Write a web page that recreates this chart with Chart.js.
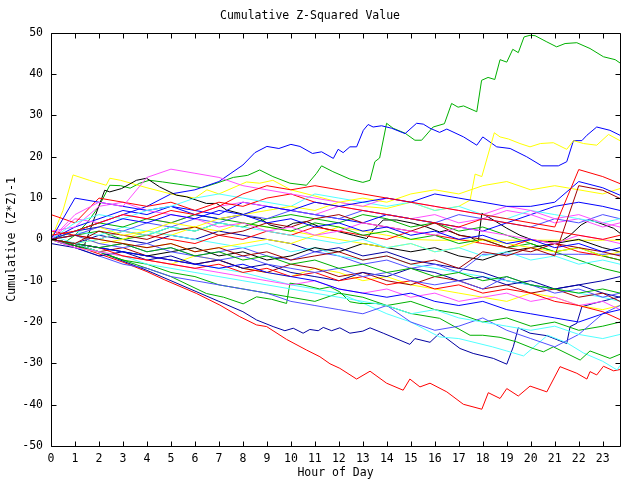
<!DOCTYPE html>
<html>
<head>
<meta charset="utf-8">
<script src="https://cdn.jsdelivr.net/npm/chart.js@4/dist/chart.umd.min.js"></script>
<style>html,body{margin:0;padding:0;background:#fff;}canvas{display:block;}</style>
</head>
<body>
<canvas id="c" width="640" height="480"></canvas>
<script>
// ---- data ----
const HOURS = [0,1,2,3,4,5,6,7,8,9,10,11,12,13,14,15,16,17,18,19,20,21,22,23,23.72];
const TICK_HOURS = [0,1,2,3,4,5,6,7,8,9,10,11,12,13,14,15,16,17,18,19,20,21,22,23];

const GREEN_BIG_X = [0,0.5,1,1.5,2,2.45,2.9,3.3,3.7,4.1,4.66,5.5,6.3,7,7.6,8.2,8.7,9.25,9.96,10.65,11.07,11.28,11.75,12.46,13.0,13.3,13.5,13.7,13.99,14.26,14.76,15.17,15.45,15.93,16.4,16.7,16.97,17.2,17.75,17.95,18.22,18.5,18.72,19.0,19.25,19.48,19.72,19.97,20.18,20.67,21.08,21.43,21.92,22.47,23.03,23.52,23.72];
const GREEN_BIG_Y = [0,-1,1,4,8,13.1,13,12.4,13.6,14.3,13.9,13.2,12.5,13.8,15,15.5,16.8,15.2,13.6,13.1,16,17.8,16.4,14.6,13.8,14.3,18.8,19.7,28.1,26.9,25.7,24.0,24.0,27.2,28.0,32.9,32.0,32.3,30.9,38.5,39.2,38.7,43.5,42.9,46.0,45.2,49.0,49.4,49.3,47.8,46.6,47.4,47.6,46.2,44.2,43.5,42.7];

const BLUE_TOP_X = [0,1,2,3,4,5,6,7,7.5,8,8.5,9,9.5,10,10.38,10.9,11.28,11.77,11.97,12.18,12.46,12.74,13.02,13.22,13.43,13.78,14.2,14.76,15.24,15.52,15.8,16.2,16.5,17.2,17.75,18.0,18.58,19.14,19.83,20.46,21.15,21.5,21.78,22.13,22.34,22.75,23.3,23.72];
const BLUE_TOP_Y = [0,2,4,6,8,11,12,14,16,18,21,22.5,22,23,22.5,20.8,21.2,19.6,21.8,21.0,22.4,22.4,26.4,27.8,27.2,27.5,26.9,25.6,28.1,27.9,26.9,25.9,26.7,24.8,22.8,24.8,22.4,22.0,20.0,17.8,17.8,18.8,23.9,23.9,25.2,27.2,26.4,25.2];

const YELLOW_TOP_X = [0,0.5,0.92,1.6,2.3,2.45,2.9,4,5,6,6.5,7,8.15,8.7,9.25,10,11,12,13,14,15,16,17,17.47,17.68,17.96,18.48,18.72,19.07,19.55,19.97,20.4,20.94,21.5,21.78,22.2,22.75,23.24,23.72];
const YELLOW_TOP_Y = [0,7,15.6,14.3,13.1,14.8,14.3,12.5,11,10,12,11,13.9,13.6,14.3,12,10.5,9,8,7.5,9,7,8,9.5,15.8,15.2,25.8,24.8,24.3,23.2,22.4,23.2,23.4,21.8,23.9,23.2,22.8,25.4,23.9];

const RED_LOW_X = [0,1,2,3,4,4.74,6.07,7.04,7.87,8.57,8.99,9.82,10.66,11.21,11.63,12.04,12.74,13.3,13.99,14.68,14.96,15.38,15.8,16.5,17.19,17.96,18.23,18.72,19.0,19.48,19.97,20.67,21.22,21.92,22.34,22.47,22.75,23.03,23.45,23.72];
const RED_LOW_Y = [0,-1.5,-3.5,-5.5,-7.8,-9.8,-13.1,-15.9,-18.7,-20.7,-21.1,-24.2,-26.8,-28.4,-30.1,-31.2,-33.8,-31.9,-34.8,-36.5,-33.8,-35.7,-34.8,-36.9,-39.9,-41.1,-37.1,-38.5,-36.1,-37.9,-35.5,-36.9,-30.8,-32.4,-33.8,-32.0,-32.8,-30.7,-31.8,-31.5];

const DKBLUE_LOW_X = [0,2,4,5,6,7,8,8.57,9.26,9.75,10.1,10.51,10.79,11.14,11.35,11.7,12.04,12.46,13.0,13.3,13.85,14.55,14.96,15.17,15.8,16.2,17.05,17.6,18.44,19.0,19.27,19.48,19.97,20.67,21.5,21.64,21.92,22.13,22.61,23.17,23.72];
const DKBLUE_LOW_Y = [0,-3,-7.5,-10,-12.5,-15,-17.5,-19.5,-21.1,-22.1,-21.5,-22.7,-21.8,-22.1,-21.3,-22.1,-21.4,-22.7,-22.2,-21.4,-22.7,-24.4,-25.4,-24.0,-24.9,-22.7,-26.4,-27.6,-28.8,-30.2,-26.0,-21.4,-22.7,-23.3,-25.2,-21.1,-20.3,-16.3,-15.5,-14.7,-13.9];

const GREEN_LOW_X = [0,2,4,5,6.48,7.2,8.01,8.57,9.2,9.82,9.96,10.5,11.2,11.63,12.04,12.46,12.88,13.57,14.13,14.97,16.2,17.47,18.0,18.72,19.41,20.1,20.53,20.94,22.06,22.47,23.3,23.72];
const GREEN_LOW_Y = [0,-3,-7,-9,-13.1,-14,-15.6,-13.9,-14.5,-15.5,-10.6,-11,-12,-11.5,-12.7,-15.1,-15.5,-15.5,-16.3,-17.9,-19.1,-23.2,-23.2,-23.7,-24.8,-26.4,-27.2,-26.0,-29.2,-27.0,-28.8,-27.8];

const CYAN_LOW_X = [0,2,4,6,8,10,12,13,14,15,16.2,17,18.4,19,19.7,20.7,21.5,22.2,23,23.6,23.72];
const CYAN_LOW_Y = [0,-2,-4,-6,-8,-11,-13,-15.4,-18,-20,-23.6,-24,-26,-27,-28.2,-23.2,-25,-27.5,-29.5,-31.6,-30.5];

const BLACK_X = [0,0.5,1,1.34,1.8,2.24,2.45,2.94,3.56,3.98,4.53,5.23,5.65,6.48,6.9,7.32,7.87,8.29,8.71,9.12,9.68,10.1,10.66,11.35,12.04,12.6,13.16,13.43,13.85,14.41,15.1,15.66,16.2,16.5,17.05,17.47,17.81,17.96,18.44,19.0,19.55,20.1,20.7,21.22,21.64,22.1,22.47,22.89,23.45,23.72];
const BLACK_Y = [0,-1,-1.5,-2.2,5,11.9,11.5,12.3,14.3,14.8,12.7,10.7,10.3,8.7,8.7,7.1,6.3,5.5,5.1,3.5,2.7,3.9,4.3,2.7,1.8,1.0,0.2,2.2,4.7,4.7,3.9,3.0,1.8,2.2,1.0,0.6,-0.6,6.3,4.7,2.7,1.0,-0.2,-0.5,-0.6,1.0,3.5,4.7,3.9,2.7,1.5];

// hourly series (values at HOURS)
const R1  = [1,2,4,6,5,7,6,8,11,13,12,13,12,11,10,9,8,7,6,5,4,3,16.9,15.2,13.5];
const R2  = [0,1,0,-1,-2,-1,-3,-2,-4,-3,-5,-4,-3,-5,-4,-6,-5,-7,-3,-4,-2,-4,13,11.9,9.9];
const R3  = [0,2,3,5,4,6,5,7,6,8,7,9,8,9,10,9,11,10,9,8,8,9,14,12.5,10.7];
const R4  = [0,2,3,1,2,4,3,5,6,7,8,7,9,10,9,11,12,11,13,14,12,13,12,11,12.3];
const R5  = [0,6,9,8,15,17,16,15,13,12,11,10,9,8,10,9,8,7,6,8,7,5,6,4,3];
const R6  = [0,4,6,5,7,8,10,11,10,9,8,11,10,9,8,9,7,8,6,5,7,6,5,4,5];
const R7  = [0,10,9,8,7,8,6,5,6,4,5,3,4,2,3,1,2,0,1,-1,0,-2,-1,-3,-2];
const R8  = [6,4,10,9,8,9,7,9,8,10,11,9,8,7,6,5,4,3,5,4,3,2,1,0,1];
const R9  = [2,3,8,9,7,6,5,3,4,2,3,1,2,4,3,2,1,3,2,1,0,-1,1,0,-1];
const R10 = [0,-1,2,1,0,2,3,1,2,4,3,5,6,4,3,2,4,1,0,-2,-3,-1,-2,-3,-4];
const R11 = [1,-1,0,2,1,3,2,4,3,2,1,0,-1,0,-2,-1,-3,-2,-4,-3,-5,-4,-6,-5,-6];
const R12 = [0,-1,-2,-1,-3,-2,-4,-3,-5,-4,-6,-5,-7,-6,-8,-7,-9,-8,-10,-9,-11,-12,-13,-12,-13];
const R13 = [0,-1,-2,-3,-4,-5,-6,-7,-6,-8,-9,-10,-12,-13,-14,-13,-15,-16,-15,-17,-18,-19,-20,-18,-17];
const R14 = [0,1,-1,-2,-1,-3,-4,-5,-4,-6,-7,-8,-7,-9,-8,-10,-11,-10,-12,-9,-11,-13,-12,-14,-13];
const R15 = [0,-1,0,-1,-2,-1,-3,-2,-1,0,-1,1,0,-1,-2,-1,-3,-2,0,-1,-2,-3,-2,-4,-3];
const R16 = [0,-1,-2,-4,-5,-6,-7,-6,-8,-7,-9,-8,-10,-9,-11,-10,-12,-11,-13,-12,-13,-15,-16,-17.5,-19.4];
const R17 = [0,-2,-3,-4,-5,-6,-7,-8,-9,-10,-11,-10,-12,-13,-12,-14,-13,-15,-14,-13,-15,-14,-16,-15,-17];
const R18 = [0,-1,-3,-4,-6,-7,-8,-9,-10,-11,-12,-13,-14,-15,-16,-18,-17,-19,-20,-21,-22,-21,-23,-24,-23];
const R19 = [-1,-2,-4,-3,-5,-4,-6,-5,-7,-6,-8,-9,-10,-8,-9,-7,-8,-10,-9,-11,-10,-12,-11,-10,-9];
const R20 = [0,-1,-2,-3,-4,-3,-2,-4,-3,-5,-4,-2,-3,-1,-2,-3,-2,-4,-5,-3,-2,-1,0,-2,-3];
const R21 = [0,2,4,3,5,4,6,5,4,3,2,4,3,1,2,0,1,-1,0,-2,-1,-3,-2,-4,-5];
const R22 = [0,-2,-4,-6,-7,-9,-10,-11,-12,-13,-15,-16,-17,-18,-16,-20,-22,-21,-19,-22,-24,-26,-23,-18,-16];
const R23 = [0,1,3,2,4,3,5,4,6,5,7,6,5,7,6,5,4,6,5,4,3,5,4,6,5];
const R24 = [2,1,0,2,1,0,-1,1,0,2,1,3,2,1,0,2,1,0,-1,-2,0,-1,-3,-4,-5];
const R25 = [0,5,4,6,5,4,6,8,9,8,7,6,8,7,6,5,6,4,5,7,6,4,5,3,4];
const R26 = [0,-1,-3,-2,-4,-5,-6,-5,-7,-8,-6,-7,-9,-8,-10,-11,-9,-10,-12,-11,-13,-12,-14,-13,-15];
const R27 = [0,2,1,3,2,1,0,-1,-2,-1,-3,-2,-4,-5,-4,-6,-7,-8,-9,-10,-11,-12,-13,-14,-15];
const R28 = [0,-1,-3,-5,-6,-8,-9,-11,-12,-13,-14,-15,-13,-14,-16,-15,-17,-18,-20,-19,-21,-20,-22,-21,-20];
const R29 = [0,-2,-3,-4,-5,-6,-4,-5,-7,-8,-9,-7,-8,-10,-9,-11,-12,-13,-14,-15,-13,-14,-16,-17,-16];
const R30 = [0,3,5,7,6,8,7,6,9,8,7,6,5,4,6,5,4,3,2,4,6,8,9,8,7];
const R31 = [0,1,-1,0,2,1,3,2,4,3,2,1,3,2,1,0,-0.2,-0.2,-0.2,-0.2,-0.2,-0.2,-0.2,-0.2,-0.2];
const R32 = [0,-1,-2,-1,-3,-2,-4,-3,-2,-4,-5,-3,-4,-6,-5,-7,-6,-8,-3.6,-3.6,-3.6,-3.6,-3.6,-3.6,-3.6];
const R33 = [0,1,2,0,1,3,2,4,3,5,6,5,4,6,5,3,4,2,3,1,-1,-3,-5,-7,-8];
const R34 = [0,-1,1,0,-1,1,0,2,1,0,-1,-3,-2,-4,-3,-5,-6,-7,-8,-10,-11,-12,-11,-13,-14];

// ---- styles ----
const C = {
  red:'#ff0000', green:'#00b000', blue:'#0000ff', magenta:'#ff50ff', cyan:'#50ffff',
  darkred:'#a00000', yellow:'#ffff00', black:'#000000', medblue:'#5050ff', darkblue:'#0000a0'
};

const SERIES = [
  [HOURS,R1,C.red],[HOURS,R2,C.darkred],[HOURS,R3,C.blue],[HOURS,R4,C.yellow],
  [HOURS,R5,C.magenta],[HOURS,R6,C.cyan],[HOURS,R7,C.blue],[HOURS,R8,C.red],
  [HOURS,R9,C.magenta],[HOURS,R10,C.darkred],[HOURS,R11,C.cyan],[HOURS,R12,C.green],
  [HOURS,R13,C.blue],[HOURS,R14,C.medblue],[HOURS,R15,C.yellow],[HOURS,R16,C.red],
  [HOURS,R17,C.magenta],[HOURS,R18,C.cyan],[HOURS,R19,C.darkblue],[HOURS,R20,C.black],
  [HOURS,R21,C.green],[HOURS,R22,C.medblue],[HOURS,R23,C.medblue],[HOURS,R24,C.red],
  [HOURS,R25,C.magenta],[HOURS,R26,C.darkred],[HOURS,R27,C.cyan],[HOURS,R28,C.green],
  [HOURS,R29,C.yellow],[HOURS,R30,C.blue],[HOURS,R31,C.yellow],[HOURS,R32,C.medblue],
  [HOURS,R33,C.green],[HOURS,R34,C.darkblue],
  [GREEN_LOW_X,GREEN_LOW_Y,C.green],[CYAN_LOW_X,CYAN_LOW_Y,C.cyan],
  [DKBLUE_LOW_X,DKBLUE_LOW_Y,C.darkblue],[RED_LOW_X,RED_LOW_Y,C.red],
  [BLACK_X,BLACK_Y,C.black],[YELLOW_TOP_X,YELLOW_TOP_Y,C.yellow],
  [BLUE_TOP_X,BLUE_TOP_Y,C.blue],[GREEN_BIG_X,GREEN_BIG_Y,C.green]
];

const FONT = "'DejaVu Sans Mono', 'Liberation Mono', monospace";

const datasets = SERIES.map(([xs, ys, col]) => ({
  data: xs.map((x, i) => ({x: x, y: ys[i]})),
  borderColor: col,
  borderWidth: 1,
  pointRadius: 0,
  fill: false,
  tension: 0
}));

const framePlugin = {
  id: 'frame',
  afterDatasetsDraw(chart) {
    const {ctx, chartArea, scales} = chart;
    const L = Math.round(chartArea.left) + 0.5, R = Math.round(chartArea.right) + 0.5;
    const T = Math.round(chartArea.top) + 0.5, B = Math.round(chartArea.bottom) + 0.5;
    ctx.save();
    ctx.strokeStyle = '#000';
    ctx.lineWidth = 1;
    ctx.beginPath();
    ctx.rect(L, T, R - L, B - T);
    const TL = 5;
    scales.x.ticks.forEach(t => {
      const px = Math.round(scales.x.getPixelForValue(t.value)) + 0.5;
      ctx.moveTo(px, B); ctx.lineTo(px, B - TL);
      ctx.moveTo(px, T); ctx.lineTo(px, T + TL);
    });
    scales.y.ticks.forEach(t => {
      const py = Math.round(scales.y.getPixelForValue(t.value)) + 0.5;
      ctx.moveTo(L, py); ctx.lineTo(L + TL, py);
      ctx.moveTo(R, py); ctx.lineTo(R - TL, py);
    });
    ctx.stroke();
    ctx.restore();
  }
};

new Chart(document.getElementById('c'), {
  type: 'line',
  data: { datasets },
  plugins: [framePlugin],
  options: {
    responsive: false,
    animation: false,
    devicePixelRatio: 1,
    layout: { padding: { left: 0, right: 20, top: 0, bottom: 0 } },
    plugins: {
      legend: { display: false },
      tooltip: { enabled: false },
      title: {
        display: true,
        text: 'Cumulative Z-Squared Value',
        color: '#000',
        font: { family: FONT, size: 11.5, weight: 'normal' },
        padding: { top: 9, bottom: 10 }
      }
    },
    scales: {
      x: {
        type: 'linear',
        min: 0,
        max: 23.72,
        grid: { display: false, drawTicks: false },
        border: { display: false },
        afterFit: s => { s.height = 34; },
        afterBuildTicks: s => { s.ticks = TICK_HOURS.map(v => ({value: v})); },
        ticks: {
          color: '#000',
          font: { family: FONT, size: 11.5 },
          padding: 6,
          maxRotation: 0,
          autoSkip: false,
          callback: v => String(v)
        },
        title: {
          display: true,
          text: 'Hour of Day',
          color: '#000',
          font: { family: FONT, size: 11.5 },
          padding: { top: 0, bottom: 0 }
        }
      },
      y: {
        type: 'linear',
        min: -50,
        max: 50,
        grid: { display: false, drawTicks: false },
        border: { display: false },
        afterFit: s => { s.width = 51; },
        ticks: {
          stepSize: 10,
          color: '#000',
          font: { family: FONT, size: 11.5 },
          padding: 8
        },
        title: {
          display: true,
          text: 'Cumulative (Z*Z)-1',
          color: '#000',
          font: { family: FONT, size: 11.5 },
          padding: { top: 5, bottom: 0 }
        }
      }
    }
  }
});
</script>
</body>
</html>
